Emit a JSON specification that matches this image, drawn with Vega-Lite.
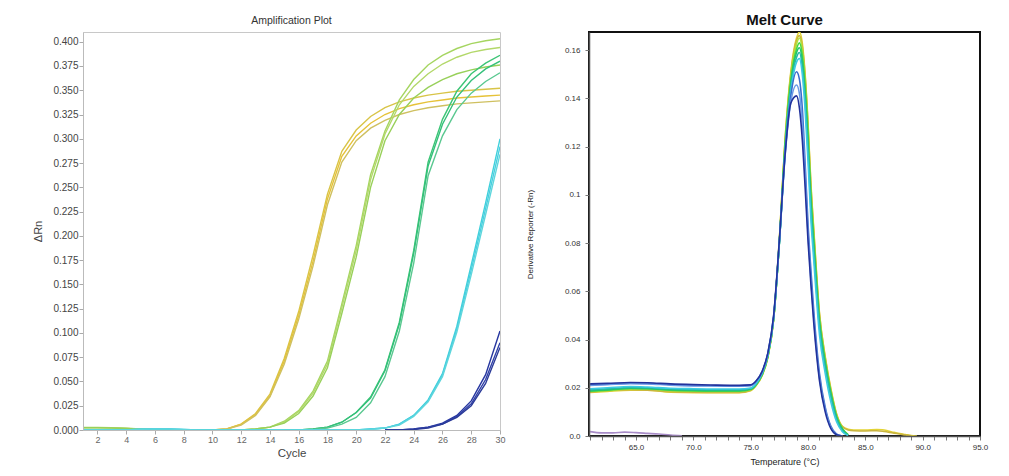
{
"$schema": "https://vega.github.io/schema/vega-lite/v6.json",
"background": "white",
"padding": {"left": 32, "top": 12, "right": 5, "bottom": 5},
"spacing": 19,
"resolve": {"scale": {"color": "independent"}},
"config": {"font": "Liberation Sans"},
"datasets": {
"amp": [
{"s":"Y1","c":9,"v":0},{"s":"Y1","c":10,"v":0},{"s":"Y1","c":11,"v":0.001},{"s":"Y1","c":12,"v":0.006},{"s":"Y1","c":13,"v":0.017},{"s":"Y1","c":14,"v":0.037},{"s":"Y1","c":15,"v":0.074},{"s":"Y1","c":16,"v":0.122},{"s":"Y1","c":17,"v":0.180},{"s":"Y1","c":18,"v":0.243},{"s":"Y1","c":19,"v":0.287},{"s":"Y1","c":20,"v":0.309},{"s":"Y1","c":21,"v":0.323},{"s":"Y1","c":22,"v":0.332},{"s":"Y1","c":23,"v":0.338},{"s":"Y1","c":24,"v":0.342},{"s":"Y1","c":25,"v":0.345},{"s":"Y1","c":26,"v":0.347},{"s":"Y1","c":27,"v":0.349},{"s":"Y1","c":28,"v":0.350},{"s":"Y1","c":29,"v":0.351},{"s":"Y1","c":30,"v":0.352},
{"s":"Y2","c":9,"v":0},{"s":"Y2","c":10,"v":0},{"s":"Y2","c":11,"v":0.001},{"s":"Y2","c":12,"v":0.006},{"s":"Y2","c":13,"v":0.016},{"s":"Y2","c":14,"v":0.035},{"s":"Y2","c":15,"v":0.071},{"s":"Y2","c":16,"v":0.118},{"s":"Y2","c":17,"v":0.174},{"s":"Y2","c":18,"v":0.238},{"s":"Y2","c":19,"v":0.282},{"s":"Y2","c":20,"v":0.303},{"s":"Y2","c":21,"v":0.316},{"s":"Y2","c":22,"v":0.325},{"s":"Y2","c":23,"v":0.331},{"s":"Y2","c":24,"v":0.335},{"s":"Y2","c":25,"v":0.338},{"s":"Y2","c":26,"v":0.340},{"s":"Y2","c":27,"v":0.342},{"s":"Y2","c":28,"v":0.343},{"s":"Y2","c":29,"v":0.344},{"s":"Y2","c":30,"v":0.345},
{"s":"Y3","c":9,"v":0},{"s":"Y3","c":10,"v":0},{"s":"Y3","c":11,"v":0.001},{"s":"Y3","c":12,"v":0.005},{"s":"Y3","c":13,"v":0.015},{"s":"Y3","c":14,"v":0.034},{"s":"Y3","c":15,"v":0.068},{"s":"Y3","c":16,"v":0.114},{"s":"Y3","c":17,"v":0.169},{"s":"Y3","c":18,"v":0.232},{"s":"Y3","c":19,"v":0.276},{"s":"Y3","c":20,"v":0.298},{"s":"Y3","c":21,"v":0.311},{"s":"Y3","c":22,"v":0.319},{"s":"Y3","c":23,"v":0.325},{"s":"Y3","c":24,"v":0.329},{"s":"Y3","c":25,"v":0.332},{"s":"Y3","c":26,"v":0.334},{"s":"Y3","c":27,"v":0.336},{"s":"Y3","c":28,"v":0.337},{"s":"Y3","c":29,"v":0.338},{"s":"Y3","c":30,"v":0.339},
{"s":"L1","c":1,"v":0.0025},{"s":"L1","c":2,"v":0.0025},{"s":"L1","c":3,"v":0.0023},{"s":"L1","c":4,"v":0.0018},{"s":"L1","c":5,"v":0.001},{"s":"L1","c":6,"v":0.0004},{"s":"L1","c":7,"v":0},{"s":"L1","c":8,"v":0},{"s":"L1","c":9,"v":0},{"s":"L1","c":10,"v":0},{"s":"L1","c":11,"v":0},{"s":"L1","c":12,"v":0},{"s":"L1","c":13,"v":0.001},{"s":"L1","c":14,"v":0.003},{"s":"L1","c":15,"v":0.009},{"s":"L1","c":16,"v":0.020},{"s":"L1","c":17,"v":0.040},{"s":"L1","c":18,"v":0.071},{"s":"L1","c":19,"v":0.130},{"s":"L1","c":20,"v":0.190},{"s":"L1","c":21,"v":0.263},{"s":"L1","c":22,"v":0.308},{"s":"L1","c":23,"v":0.340},{"s":"L1","c":24,"v":0.361},{"s":"L1","c":25,"v":0.376},{"s":"L1","c":26,"v":0.386},{"s":"L1","c":27,"v":0.393},{"s":"L1","c":28,"v":0.398},{"s":"L1","c":29,"v":0.401},{"s":"L1","c":30,"v":0.403},
{"s":"L2","c":1,"v":0.0024},{"s":"L2","c":2,"v":0.0024},{"s":"L2","c":3,"v":0.0022},{"s":"L2","c":4,"v":0.0017},{"s":"L2","c":5,"v":0.001},{"s":"L2","c":6,"v":0.0004},{"s":"L2","c":7,"v":0},{"s":"L2","c":8,"v":0},{"s":"L2","c":9,"v":0},{"s":"L2","c":10,"v":0},{"s":"L2","c":11,"v":0},{"s":"L2","c":12,"v":0},{"s":"L2","c":13,"v":0.001},{"s":"L2","c":14,"v":0.003},{"s":"L2","c":15,"v":0.008},{"s":"L2","c":16,"v":0.019},{"s":"L2","c":17,"v":0.038},{"s":"L2","c":18,"v":0.068},{"s":"L2","c":19,"v":0.126},{"s":"L2","c":20,"v":0.185},{"s":"L2","c":21,"v":0.258},{"s":"L2","c":22,"v":0.305},{"s":"L2","c":23,"v":0.335},{"s":"L2","c":24,"v":0.354},{"s":"L2","c":25,"v":0.367},{"s":"L2","c":26,"v":0.377},{"s":"L2","c":27,"v":0.384},{"s":"L2","c":28,"v":0.389},{"s":"L2","c":29,"v":0.392},{"s":"L2","c":30,"v":0.394},
{"s":"L3","c":1,"v":0.0023},{"s":"L3","c":2,"v":0.0023},{"s":"L3","c":3,"v":0.0021},{"s":"L3","c":4,"v":0.0016},{"s":"L3","c":5,"v":0.0009},{"s":"L3","c":6,"v":0.0003},{"s":"L3","c":7,"v":0},{"s":"L3","c":8,"v":0},{"s":"L3","c":9,"v":0},{"s":"L3","c":10,"v":0},{"s":"L3","c":11,"v":0},{"s":"L3","c":12,"v":0},{"s":"L3","c":13,"v":0.001},{"s":"L3","c":14,"v":0.003},{"s":"L3","c":15,"v":0.007},{"s":"L3","c":16,"v":0.017},{"s":"L3","c":17,"v":0.035},{"s":"L3","c":18,"v":0.064},{"s":"L3","c":19,"v":0.120},{"s":"L3","c":20,"v":0.178},{"s":"L3","c":21,"v":0.250},{"s":"L3","c":22,"v":0.298},{"s":"L3","c":23,"v":0.325},{"s":"L3","c":24,"v":0.342},{"s":"L3","c":25,"v":0.353},{"s":"L3","c":26,"v":0.361},{"s":"L3","c":27,"v":0.367},{"s":"L3","c":28,"v":0.371},{"s":"L3","c":29,"v":0.374},{"s":"L3","c":30,"v":0.376},
{"s":"G1","c":15,"v":0},{"s":"G1","c":16,"v":0},{"s":"G1","c":17,"v":0.001},{"s":"G1","c":18,"v":0.003},{"s":"G1","c":19,"v":0.008},{"s":"G1","c":20,"v":0.018},{"s":"G1","c":21,"v":0.034},{"s":"G1","c":22,"v":0.062},{"s":"G1","c":23,"v":0.111},{"s":"G1","c":24,"v":0.185},{"s":"G1","c":25,"v":0.276},{"s":"G1","c":26,"v":0.320},{"s":"G1","c":27,"v":0.349},{"s":"G1","c":28,"v":0.367},{"s":"G1","c":29,"v":0.378},{"s":"G1","c":30,"v":0.386},
{"s":"G2","c":15,"v":0},{"s":"G2","c":16,"v":0},{"s":"G2","c":17,"v":0.001},{"s":"G2","c":18,"v":0.003},{"s":"G2","c":19,"v":0.008},{"s":"G2","c":20,"v":0.018},{"s":"G2","c":21,"v":0.033},{"s":"G2","c":22,"v":0.061},{"s":"G2","c":23,"v":0.109},{"s":"G2","c":24,"v":0.182},{"s":"G2","c":25,"v":0.272},{"s":"G2","c":26,"v":0.315},{"s":"G2","c":27,"v":0.343},{"s":"G2","c":28,"v":0.360},{"s":"G2","c":29,"v":0.372},{"s":"G2","c":30,"v":0.380},
{"s":"G3","c":15,"v":0},{"s":"G3","c":16,"v":0},{"s":"G3","c":17,"v":0.0005},{"s":"G3","c":18,"v":0.002},{"s":"G3","c":19,"v":0.006},{"s":"G3","c":20,"v":0.013},{"s":"G3","c":21,"v":0.028},{"s":"G3","c":22,"v":0.055},{"s":"G3","c":23,"v":0.102},{"s":"G3","c":24,"v":0.172},{"s":"G3","c":25,"v":0.262},{"s":"G3","c":26,"v":0.303},{"s":"G3","c":27,"v":0.330},{"s":"G3","c":28,"v":0.347},{"s":"G3","c":29,"v":0.359},{"s":"G3","c":30,"v":0.368},
{"s":"C1","c":1,"v":0},{"s":"C1","c":2,"v":0},{"s":"C1","c":3,"v":0},{"s":"C1","c":4,"v":0},{"s":"C1","c":5,"v":0.0008},{"s":"C1","c":6,"v":0.001},{"s":"C1","c":7,"v":0.001},{"s":"C1","c":8,"v":0.0005},{"s":"C1","c":9,"v":0},{"s":"C1","c":10,"v":0},{"s":"C1","c":11,"v":0},{"s":"C1","c":12,"v":0},{"s":"C1","c":13,"v":0},{"s":"C1","c":14,"v":0},{"s":"C1","c":15,"v":0},{"s":"C1","c":16,"v":0},{"s":"C1","c":17,"v":0},{"s":"C1","c":18,"v":0},{"s":"C1","c":19,"v":0},{"s":"C1","c":20,"v":0},{"s":"C1","c":21,"v":0.001},{"s":"C1","c":22,"v":0.002},{"s":"C1","c":23,"v":0.006},{"s":"C1","c":24,"v":0.015},{"s":"C1","c":25,"v":0.031},{"s":"C1","c":26,"v":0.058},{"s":"C1","c":27,"v":0.107},{"s":"C1","c":28,"v":0.170},{"s":"C1","c":29,"v":0.234},{"s":"C1","c":30,"v":0.300},
{"s":"C2","c":1,"v":0},{"s":"C2","c":2,"v":0},{"s":"C2","c":3,"v":0},{"s":"C2","c":4,"v":0},{"s":"C2","c":5,"v":0.0008},{"s":"C2","c":6,"v":0.001},{"s":"C2","c":7,"v":0.001},{"s":"C2","c":8,"v":0.0005},{"s":"C2","c":9,"v":0},{"s":"C2","c":10,"v":0},{"s":"C2","c":11,"v":0},{"s":"C2","c":12,"v":0},{"s":"C2","c":13,"v":0},{"s":"C2","c":14,"v":0},{"s":"C2","c":15,"v":0},{"s":"C2","c":16,"v":0},{"s":"C2","c":17,"v":0},{"s":"C2","c":18,"v":0},{"s":"C2","c":19,"v":0},{"s":"C2","c":20,"v":0},{"s":"C2","c":21,"v":0.001},{"s":"C2","c":22,"v":0.002},{"s":"C2","c":23,"v":0.006},{"s":"C2","c":24,"v":0.015},{"s":"C2","c":25,"v":0.030},{"s":"C2","c":26,"v":0.057},{"s":"C2","c":27,"v":0.104},{"s":"C2","c":28,"v":0.165},{"s":"C2","c":29,"v":0.228},{"s":"C2","c":30,"v":0.292},
{"s":"C3","c":1,"v":0},{"s":"C3","c":2,"v":0},{"s":"C3","c":3,"v":0},{"s":"C3","c":4,"v":0},{"s":"C3","c":5,"v":0.0007},{"s":"C3","c":6,"v":0.0009},{"s":"C3","c":7,"v":0.0009},{"s":"C3","c":8,"v":0.0004},{"s":"C3","c":9,"v":0},{"s":"C3","c":10,"v":0},{"s":"C3","c":11,"v":0},{"s":"C3","c":12,"v":0},{"s":"C3","c":13,"v":0},{"s":"C3","c":14,"v":0},{"s":"C3","c":15,"v":0},{"s":"C3","c":16,"v":0},{"s":"C3","c":17,"v":0},{"s":"C3","c":18,"v":0},{"s":"C3","c":19,"v":0},{"s":"C3","c":20,"v":0},{"s":"C3","c":21,"v":0.0005},{"s":"C3","c":22,"v":0.002},{"s":"C3","c":23,"v":0.005},{"s":"C3","c":24,"v":0.014},{"s":"C3","c":25,"v":0.029},{"s":"C3","c":26,"v":0.055},{"s":"C3","c":27,"v":0.101},{"s":"C3","c":28,"v":0.160},{"s":"C3","c":29,"v":0.222},{"s":"C3","c":30,"v":0.284},
{"s":"B1","c":22,"v":0},{"s":"B1","c":23,"v":0},{"s":"B1","c":24,"v":0.001},{"s":"B1","c":25,"v":0.003},{"s":"B1","c":26,"v":0.007},{"s":"B1","c":27,"v":0.015},{"s":"B1","c":28,"v":0.030},{"s":"B1","c":29,"v":0.057},{"s":"B1","c":30,"v":0.102},
{"s":"B2","c":22,"v":0},{"s":"B2","c":23,"v":0},{"s":"B2","c":24,"v":0.001},{"s":"B2","c":25,"v":0.003},{"s":"B2","c":26,"v":0.006},{"s":"B2","c":27,"v":0.014},{"s":"B2","c":28,"v":0.027},{"s":"B2","c":29,"v":0.052},{"s":"B2","c":30,"v":0.090},
{"s":"B3","c":22,"v":0},{"s":"B3","c":23,"v":0},{"s":"B3","c":24,"v":0.0005},{"s":"B3","c":25,"v":0.002},{"s":"B3","c":26,"v":0.006},{"s":"B3","c":27,"v":0.013},{"s":"B3","c":28,"v":0.025},{"s":"B3","c":29,"v":0.048},{"s":"B3","c":30,"v":0.085}
],
"melt": [
{"s":"M1","t":61,"v":0.0180},{"s":"M1","t":62.5,"v":0.0185},{"s":"M1","t":64.5,"v":0.0190},{"s":"M1","t":66,"v":0.0190},{"s":"M1","t":68,"v":0.0182},{"s":"M1","t":70,"v":0.0180},{"s":"M1","t":72,"v":0.0180},{"s":"M1","t":74,"v":0.0180},{"s":"M1","t":75,"v":0.0188},{"s":"M1","t":75.5,"v":0.0210},{"s":"M1","t":76,"v":0.0250},{"s":"M1","t":76.5,"v":0.0325},{"s":"M1","t":77,"v":0.0480},{"s":"M1","t":77.5,"v":0.0810},{"s":"M1","t":78,"v":0.1230},{"s":"M1","t":78.5,"v":0.1510},{"s":"M1","t":79,"v":0.1650},{"s":"M1","t":79.25,"v":0.1675},{"s":"M1","t":79.5,"v":0.1630},{"s":"M1","t":79.75,"v":0.1500},{"s":"M1","t":80,"v":0.1300},{"s":"M1","t":80.25,"v":0.1050},{"s":"M1","t":80.5,"v":0.0860},{"s":"M1","t":81,"v":0.0510},{"s":"M1","t":81.5,"v":0.0330},{"s":"M1","t":82,"v":0.0195},{"s":"M1","t":82.5,"v":0.0090},{"s":"M1","t":83,"v":0.0040},{"s":"M1","t":83.5,"v":0.0028},{"s":"M1","t":84,"v":0.0025},{"s":"M1","t":85,"v":0.0025},{"s":"M1","t":86,"v":0.0027},{"s":"M1","t":86.5,"v":0.0026},{"s":"M1","t":87,"v":0.0021},{"s":"M1","t":87.5,"v":0.0015},{"s":"M1","t":88,"v":0.0010},{"s":"M1","t":88.5,"v":0.0006},{"s":"M1","t":89,"v":0.0002},{"s":"M1","t":89.5,"v":0},
{"s":"M2","t":61,"v":0.0182},{"s":"M2","t":62.5,"v":0.0188},{"s":"M2","t":64.5,"v":0.0192},{"s":"M2","t":66,"v":0.0190},{"s":"M2","t":68,"v":0.0184},{"s":"M2","t":70,"v":0.0182},{"s":"M2","t":72,"v":0.0181},{"s":"M2","t":74,"v":0.0181},{"s":"M2","t":75,"v":0.0190},{"s":"M2","t":75.5,"v":0.0212},{"s":"M2","t":76,"v":0.0252},{"s":"M2","t":76.5,"v":0.0328},{"s":"M2","t":77,"v":0.0485},{"s":"M2","t":77.5,"v":0.0815},{"s":"M2","t":78,"v":0.1225},{"s":"M2","t":78.5,"v":0.1500},{"s":"M2","t":79,"v":0.1640},{"s":"M2","t":79.25,"v":0.1660},{"s":"M2","t":79.5,"v":0.1615},{"s":"M2","t":79.75,"v":0.1490},{"s":"M2","t":80,"v":0.1290},{"s":"M2","t":80.25,"v":0.1040},{"s":"M2","t":80.5,"v":0.0850},{"s":"M2","t":81,"v":0.0505},{"s":"M2","t":81.5,"v":0.0325},{"s":"M2","t":82,"v":0.0190},{"s":"M2","t":82.5,"v":0.0088},{"s":"M2","t":83,"v":0.0038},{"s":"M2","t":83.5,"v":0.0025},{"s":"M2","t":84,"v":0.0022},{"s":"M2","t":85,"v":0.0021},{"s":"M2","t":86,"v":0.0022},{"s":"M2","t":86.5,"v":0.0020},{"s":"M2","t":87,"v":0.0016},{"s":"M2","t":87.5,"v":0.0012},{"s":"M2","t":88,"v":0.0008},{"s":"M2","t":88.5,"v":0.0004},{"s":"M2","t":89,"v":0.0001},
{"s":"M3","t":61,"v":0.0185},{"s":"M3","t":62.5,"v":0.0188},{"s":"M3","t":64.5,"v":0.0195},{"s":"M3","t":66,"v":0.0195},{"s":"M3","t":68,"v":0.0188},{"s":"M3","t":70,"v":0.0186},{"s":"M3","t":72,"v":0.0185},{"s":"M3","t":74,"v":0.0185},{"s":"M3","t":75,"v":0.0192},{"s":"M3","t":75.5,"v":0.0213},{"s":"M3","t":76,"v":0.0253},{"s":"M3","t":76.5,"v":0.0328},{"s":"M3","t":77,"v":0.0482},{"s":"M3","t":77.5,"v":0.0805},{"s":"M3","t":78,"v":0.1215},{"s":"M3","t":78.5,"v":0.1490},{"s":"M3","t":79,"v":0.1625},{"s":"M3","t":79.25,"v":0.1650},{"s":"M3","t":79.5,"v":0.1600},{"s":"M3","t":79.75,"v":0.1470},{"s":"M3","t":80,"v":0.1270},{"s":"M3","t":80.25,"v":0.1020},{"s":"M3","t":80.5,"v":0.0830},{"s":"M3","t":81,"v":0.0490},{"s":"M3","t":81.5,"v":0.0315},{"s":"M3","t":82,"v":0.0182},{"s":"M3","t":82.5,"v":0.0082},{"s":"M3","t":83,"v":0.0030},{"s":"M3","t":83.5,"v":0.0006},
{"s":"M4","t":61,"v":0.0186},{"s":"M4","t":62.5,"v":0.0190},{"s":"M4","t":64.5,"v":0.0197},{"s":"M4","t":66,"v":0.0196},{"s":"M4","t":68,"v":0.0190},{"s":"M4","t":70,"v":0.0187},{"s":"M4","t":72,"v":0.0186},{"s":"M4","t":74,"v":0.0186},{"s":"M4","t":75,"v":0.0193},{"s":"M4","t":75.5,"v":0.0214},{"s":"M4","t":76,"v":0.0254},{"s":"M4","t":76.5,"v":0.0330},{"s":"M4","t":77,"v":0.0483},{"s":"M4","t":77.5,"v":0.0800},{"s":"M4","t":78,"v":0.1205},{"s":"M4","t":78.5,"v":0.1475},{"s":"M4","t":79,"v":0.1605},{"s":"M4","t":79.25,"v":0.1630},{"s":"M4","t":79.5,"v":0.1580},{"s":"M4","t":79.75,"v":0.1450},{"s":"M4","t":80,"v":0.1250},{"s":"M4","t":80.25,"v":0.1000},{"s":"M4","t":80.5,"v":0.0820},{"s":"M4","t":81,"v":0.0485},{"s":"M4","t":81.5,"v":0.0310},{"s":"M4","t":82,"v":0.0180},{"s":"M4","t":82.5,"v":0.0080},{"s":"M4","t":83,"v":0.0030},{"s":"M4","t":83.5,"v":0.0005},
{"s":"M5","t":61,"v":0.0188},{"s":"M5","t":62.5,"v":0.0192},{"s":"M5","t":64.5,"v":0.0198},{"s":"M5","t":66,"v":0.0197},{"s":"M5","t":68,"v":0.0192},{"s":"M5","t":70,"v":0.0190},{"s":"M5","t":72,"v":0.0189},{"s":"M5","t":74,"v":0.0189},{"s":"M5","t":75,"v":0.0195},{"s":"M5","t":75.5,"v":0.0216},{"s":"M5","t":76,"v":0.0256},{"s":"M5","t":76.5,"v":0.0332},{"s":"M5","t":77,"v":0.0485},{"s":"M5","t":77.5,"v":0.0800},{"s":"M5","t":78,"v":0.1195},{"s":"M5","t":78.5,"v":0.1460},{"s":"M5","t":79,"v":0.1590},{"s":"M5","t":79.25,"v":0.1610},{"s":"M5","t":79.5,"v":0.1555},{"s":"M5","t":79.75,"v":0.1420},{"s":"M5","t":80,"v":0.1220},{"s":"M5","t":80.25,"v":0.0975},{"s":"M5","t":80.5,"v":0.0795},{"s":"M5","t":81,"v":0.0470},{"s":"M5","t":81.5,"v":0.0300},{"s":"M5","t":82,"v":0.0172},{"s":"M5","t":82.5,"v":0.0075},{"s":"M5","t":83,"v":0.0027},{"s":"M5","t":83.5,"v":0.0004},
{"s":"M6","t":61,"v":0.0192},{"s":"M6","t":62.5,"v":0.0196},{"s":"M6","t":64.5,"v":0.0201},{"s":"M6","t":66,"v":0.0200},{"s":"M6","t":68,"v":0.0195},{"s":"M6","t":70,"v":0.0193},{"s":"M6","t":72,"v":0.0192},{"s":"M6","t":74,"v":0.0192},{"s":"M6","t":75,"v":0.0197},{"s":"M6","t":75.5,"v":0.0218},{"s":"M6","t":76,"v":0.0258},{"s":"M6","t":76.5,"v":0.0334},{"s":"M6","t":77,"v":0.0487},{"s":"M6","t":77.5,"v":0.0800},{"s":"M6","t":78,"v":0.1185},{"s":"M6","t":78.5,"v":0.1445},{"s":"M6","t":79,"v":0.1570},{"s":"M6","t":79.25,"v":0.1590},{"s":"M6","t":79.5,"v":0.1530},{"s":"M6","t":79.75,"v":0.1390},{"s":"M6","t":80,"v":0.1185},{"s":"M6","t":80.25,"v":0.0940},{"s":"M6","t":80.5,"v":0.0765},{"s":"M6","t":81,"v":0.0450},{"s":"M6","t":81.5,"v":0.0285},{"s":"M6","t":82,"v":0.0160},{"s":"M6","t":82.5,"v":0.0068},{"s":"M6","t":83,"v":0.0022},{"s":"M6","t":83.5,"v":0.0003},
{"s":"M7","t":61,"v":0.0196},{"s":"M7","t":62.5,"v":0.0200},{"s":"M7","t":64.5,"v":0.0205},{"s":"M7","t":66,"v":0.0203},{"s":"M7","t":68,"v":0.0198},{"s":"M7","t":70,"v":0.0196},{"s":"M7","t":72,"v":0.0195},{"s":"M7","t":74,"v":0.0195},{"s":"M7","t":75,"v":0.0199},{"s":"M7","t":75.5,"v":0.0220},{"s":"M7","t":76,"v":0.0260},{"s":"M7","t":76.5,"v":0.0336},{"s":"M7","t":77,"v":0.0488},{"s":"M7","t":77.5,"v":0.0800},{"s":"M7","t":78,"v":0.1175},{"s":"M7","t":78.5,"v":0.1425},{"s":"M7","t":79,"v":0.1550},{"s":"M7","t":79.25,"v":0.1565},{"s":"M7","t":79.5,"v":0.1500},{"s":"M7","t":79.75,"v":0.1350},{"s":"M7","t":80,"v":0.1140},{"s":"M7","t":80.25,"v":0.0900},{"s":"M7","t":80.5,"v":0.0730},{"s":"M7","t":81,"v":0.0420},{"s":"M7","t":81.5,"v":0.0260},{"s":"M7","t":82,"v":0.0140},{"s":"M7","t":82.5,"v":0.0058},{"s":"M7","t":83,"v":0.0018},{"s":"M7","t":83.5,"v":0.0002},
{"s":"M8","t":61,"v":0.0213},{"s":"M8","t":62.5,"v":0.0215},{"s":"M8","t":64.5,"v":0.0219},{"s":"M8","t":66,"v":0.0218},{"s":"M8","t":68,"v":0.0213},{"s":"M8","t":70,"v":0.0210},{"s":"M8","t":72,"v":0.0209},{"s":"M8","t":74,"v":0.0208},{"s":"M8","t":75,"v":0.0210},{"s":"M8","t":75.5,"v":0.0228},{"s":"M8","t":76,"v":0.0266},{"s":"M8","t":76.5,"v":0.0342},{"s":"M8","t":77,"v":0.0495},{"s":"M8","t":77.5,"v":0.0805},{"s":"M8","t":78,"v":0.1170},{"s":"M8","t":78.5,"v":0.1410},{"s":"M8","t":79,"v":0.1510},{"s":"M8","t":79.25,"v":0.1480},{"s":"M8","t":79.5,"v":0.1360},{"s":"M8","t":79.75,"v":0.1130},{"s":"M8","t":80,"v":0.0880},{"s":"M8","t":80.25,"v":0.0690},{"s":"M8","t":80.5,"v":0.0520},{"s":"M8","t":81,"v":0.0260},{"s":"M8","t":81.5,"v":0.0120},{"s":"M8","t":82,"v":0.0040},{"s":"M8","t":82.5,"v":0.0008},{"s":"M8","t":83,"v":0},
{"s":"M9","t":61,"v":0.0210},{"s":"M9","t":62.5,"v":0.0213},{"s":"M9","t":64.5,"v":0.0217},{"s":"M9","t":66,"v":0.0216},{"s":"M9","t":68,"v":0.0211},{"s":"M9","t":70,"v":0.0208},{"s":"M9","t":72,"v":0.0207},{"s":"M9","t":74,"v":0.0206},{"s":"M9","t":75,"v":0.0209},{"s":"M9","t":75.5,"v":0.0227},{"s":"M9","t":76,"v":0.0265},{"s":"M9","t":76.5,"v":0.0340},{"s":"M9","t":77,"v":0.0492},{"s":"M9","t":77.5,"v":0.0800},{"s":"M9","t":78,"v":0.1160},{"s":"M9","t":78.5,"v":0.1385},{"s":"M9","t":79,"v":0.1455},{"s":"M9","t":79.25,"v":0.1420},{"s":"M9","t":79.5,"v":0.1300},{"s":"M9","t":79.75,"v":0.1080},{"s":"M9","t":80,"v":0.0840},{"s":"M9","t":80.25,"v":0.0650},{"s":"M9","t":80.5,"v":0.0490},{"s":"M9","t":81,"v":0.0240},{"s":"M9","t":81.5,"v":0.0110},{"s":"M9","t":82,"v":0.0035},{"s":"M9","t":82.5,"v":0.0006},{"s":"M9","t":83,"v":0},
{"s":"M10","t":61,"v":0.0216},{"s":"M10","t":62.5,"v":0.0218},{"s":"M10","t":64.5,"v":0.0222},{"s":"M10","t":66,"v":0.0221},{"s":"M10","t":68,"v":0.0216},{"s":"M10","t":70,"v":0.0213},{"s":"M10","t":72,"v":0.0211},{"s":"M10","t":74,"v":0.0210},{"s":"M10","t":75,"v":0.0212},{"s":"M10","t":75.5,"v":0.0230},{"s":"M10","t":76,"v":0.0268},{"s":"M10","t":76.5,"v":0.0345},{"s":"M10","t":77,"v":0.0498},{"s":"M10","t":77.5,"v":0.0810},{"s":"M10","t":78,"v":0.1165},{"s":"M10","t":78.5,"v":0.1380},{"s":"M10","t":79,"v":0.1410},{"s":"M10","t":79.25,"v":0.1360},{"s":"M10","t":79.5,"v":0.1230},{"s":"M10","t":79.75,"v":0.1030},{"s":"M10","t":80,"v":0.0810},{"s":"M10","t":80.25,"v":0.0630},{"s":"M10","t":80.5,"v":0.0470},{"s":"M10","t":81,"v":0.0230},{"s":"M10","t":81.5,"v":0.0100},{"s":"M10","t":82,"v":0.0030},{"s":"M10","t":82.5,"v":0.0005},{"s":"M10","t":83,"v":0},
{"s":"M11","t":61,"v":0.0018},{"s":"M11","t":62,"v":0.0013},{"s":"M11","t":63,"v":0.0013},{"s":"M11","t":64,"v":0.0016},{"s":"M11","t":65,"v":0.0014},{"s":"M11","t":66,"v":0.0011},{"s":"M11","t":67,"v":0.0008},{"s":"M11","t":68,"v":0.0004},{"s":"M11","t":69,"v":0.0001}
]
},
"hconcat": [
{
"width": 417, "height": 398,
"title": {"text": "Amplification Plot", "fontSize": 10.5, "fontWeight": "normal", "color": "#333333", "offset": 6},
"view": {"stroke": "#c8c8c8", "strokeWidth": 1},
"data": {"name": "amp"},
"mark": {"type": "line", "strokeWidth": 1.4, "interpolate": "linear", "clip": true},
"encoding": {
"x": {"field": "c", "type": "quantitative", "scale": {"domain": [1, 30], "nice": false, "zero": false},
"axis": {"title": "Cycle", "values": [2,4,6,8,10,12,14,16,18,20,22,24,26,28,30], "format": "d", "grid": false, "zindex": 1,
"labelFontSize": 9, "labelColor": "#666666", "labelPadding": 1, "labelFlush": false, "tickSize": 4, "tickColor": "#aaaaaa", "domainColor": "#bbbbbb",
"titleFontSize": 11.5, "titleFontWeight": "normal", "titleColor": "#444444", "titlePadding": 3}},
"y": {"field": "v", "type": "quantitative", "scale": {"domain": [0, 0.41], "nice": false},
"axis": {"title": "ΔRn", "values": [0,0.025,0.05,0.075,0.1,0.125,0.15,0.175,0.2,0.225,0.25,0.275,0.3,0.325,0.35,0.375,0.4], "format": ".3f", "grid": false, "zindex": 1,
"labelFontSize": 10, "labelColor": "#444444", "labelPadding": 1, "tickSize": 4, "tickColor": "#aaaaaa", "domainColor": "#bbbbbb",
"titleFontSize": 11, "titleFontWeight": "normal", "titleColor": "#444444", "titlePadding": 9}},
"color": {"field": "s", "type": "nominal", "legend": null,
"scale": {"domain": ["Y1","Y2","Y3","L1","L2","L3","G1","G2","G3","C1","C2","C3","B1","B2","B3"],
"range": ["#d8c447","#e6c238","#cfc060","#a5d560","#b3d86a","#98d05a","#3cc576","#34c07a","#5ac890","#3fd0db","#48cfe0","#5fd6dc","#2636a0","#3040a8","#2a3a98"]}}
}
},
{
"width": 391, "height": 404,
"title": {"text": "Melt Curve", "fontSize": 15, "fontWeight": "bold", "color": "#111111", "offset": 4},
"view": {"stroke": "#111111", "strokeWidth": 2},
"data": {"name": "melt"},
"mark": {"type": "line", "strokeWidth": 1.6, "interpolate": "monotone", "clip": true},
"encoding": {
"x": {"field": "t", "type": "quantitative", "scale": {"domain": [60.9, 95], "nice": false, "zero": false},
"axis": {"title": "Temperature (°C)", "values": [61,62,63,64,65,66,67,68,69,70,71,72,73,74,75,76,77,78,79,80,81,82,83,84,85,86,87,88,89,90,91,92,93,94,95],
"labelExpr": "datum.value % 5 == 0 ? format(datum.value, '.1f') : ''", "labelOverlap": false, "labelFlush": false, "grid": false, "zindex": 1,
"labelFontSize": 8, "labelColor": "#333333", "labelPadding": 3, "tickSize": 4, "tickColor": "#777777", "domainColor": "#555555", "domainWidth": 1.5,
"titleFontSize": 9, "titleFontWeight": "normal", "titleColor": "#222222", "titlePadding": 6}},
"y": {"field": "v", "type": "quantitative", "scale": {"domain": [0, 0.1675], "nice": false},
"axis": {"title": "Derivative Reporter (-Rn)", "values": [0,0.02,0.04,0.06,0.08,0.1,0.12,0.14,0.16],
"labelExpr": "datum.value == 0 ? '0.0' : format(datum.value, '.2~f')", "grid": false, "zindex": 1,
"labelFontSize": 8, "labelColor": "#333333", "labelPadding": 5, "tickSize": 4, "tickColor": "#777777", "domainColor": "#555555", "domainWidth": 1.5,
"titleFontSize": 8, "titleFontWeight": "normal", "titleColor": "#222222", "titlePadding": 30}},
"color": {"field": "s", "type": "nominal", "legend": null,
"scale": {"domain": ["M1","M2","M3","M4","M5","M6","M7","M8","M9","M10","M11"],
"range": ["#e3d335","#c9b43e","#b2e03a","#46d846","#22c46c","#26b8a6","#3ccbe2","#3a6ccc","#6a9ae6","#22329c","#a88cc8"]}}
}
}
]
}
